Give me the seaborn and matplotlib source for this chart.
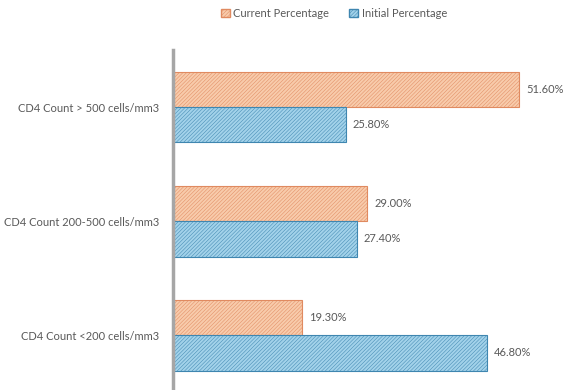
import matplotlib
matplotlib.use("Agg")
import matplotlib.pyplot as plt
import seaborn as sns
import pandas as pd
from matplotlib.patches import Patch

categories = ["CD4 Count > 500 cells/mm3", "CD4 Count 200-500 cells/mm3", "CD4 Count <200 cells/mm3"]
current_pct = [51.60, 29.00, 19.30]
initial_pct = [25.80, 27.40, 46.80]
series = ["Current Percentage", "Initial Percentage"]

df = pd.DataFrame({
    "Category": categories * 2,
    "Value": current_pct + initial_pct,
    "Series": [series[0]] * 3 + [series[1]] * 3,
})

sns.set_theme(style="white")
plt.rcParams["font.family"] = ["Lato", "DejaVu Sans"]
plt.rcParams["hatch.linewidth"] = 0.35

faces = {series[0]: "#F8CBAB", series[1]: "#A2D2EA"}
edges = {series[0]: "#E08A60", series[1]: "#3F86B0"}

fig = plt.figure(figsize=(5.71, 3.9), dpi=100)
ax = fig.add_axes([173 / 571, 0.0, (566 - 173) / 571, (390 - 50) / 390])

sns.barplot(data=df, y="Category", x="Value", hue="Series", hue_order=series,
            order=categories, palette=faces, width=0.62, orient="h", ax=ax,
            legend=False, saturation=1)

for cont, s in zip(ax.containers, series):
    for p in cont:
        p.set_edgecolor(edges[s])
        p.set_hatch("/////////")
        p.set_linewidth(0.8)
    ax.bar_label(cont, labels=[f"{v:.2f}%" for v in cont.datavalues],
                 padding=5, fontsize=8, color="#595959")

ax.set_xlim(0, 58.6)
ax.set_ylim(2.48, -0.5)
ax.set_xlabel("")
ax.set_ylabel("")
ax.set_xticks([])
ax.tick_params(axis="y", length=0, pad=10, labelsize=8, labelcolor="#595959")
for sp in ["top", "right", "bottom"]:
    ax.spines[sp].set_visible(False)
ax.spines["left"].set_color("#A6A6A6")
ax.spines["left"].set_linewidth(2.5)

handles = [Patch(facecolor=faces[s], edgecolor=edges[s], hatch="/////////", label=s) for s in series]
fig.legend(handles=handles, loc="upper center", bbox_to_anchor=(0.585, 1.005), ncol=2,
           frameon=False, fontsize=8, handlelength=0.8, handleheight=0.8,
           handletextpad=0.3, columnspacing=1.8, labelcolor="#595959")

fig.savefig("out.png", dpi=100)
